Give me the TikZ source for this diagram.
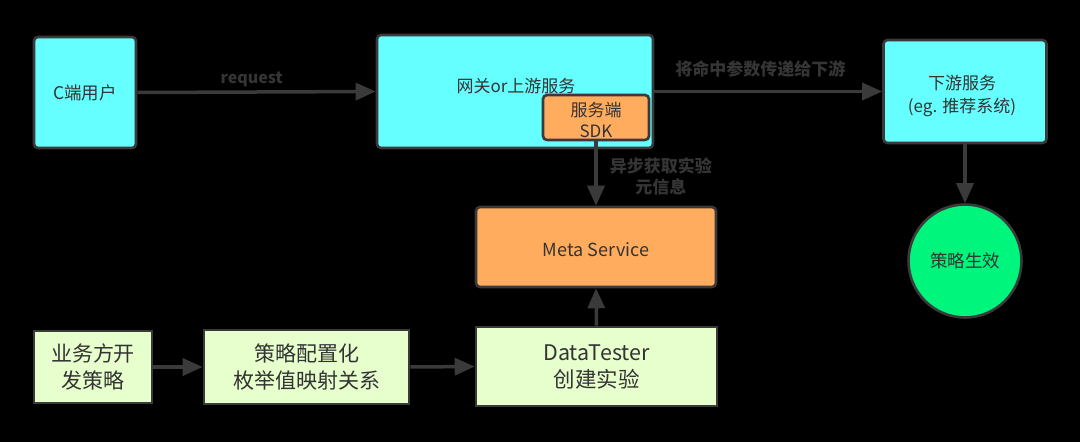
\documentclass[tikz,border=0pt]{standalone}
\usepackage{fontspec}
\setmainfont{Noto Sans CJK SC}
\usetikzlibrary{arrows.meta,positioning}
\definecolor{bordc}{HTML}{3A3A3A}
\definecolor{lblc}{HTML}{353535}
\definecolor{txtc}{HTML}{333333}
\definecolor{cyanf}{HTML}{66FFFF}
\definecolor{orangef}{HTML}{FFAC5E}
\definecolor{greenf}{HTML}{E6FFCC}
\definecolor{circf}{HTML}{00F57C}
\tikzset{
  box/.style={draw=bordc, line width=2.6pt, rectangle, inner sep=0pt, text=txtc, align=center},
  cyanbox/.style={box, fill=cyanf, rounded corners=4pt, font=\fontsize{17}{21}\selectfont},
  orangebox/.style={box, fill=orangef, rounded corners=4pt, font=\fontsize{17}{21}\selectfont},
  greenbox/.style={box, fill=greenf, font=\fontsize{21}{27}\selectfont},
  conn/.style={draw=bordc, line width=3.5pt, -{Triangle[length=20pt,width=17pt]}},
  lbl/.style={text=lblc, inner sep=0pt, align=center, font=\fontsize{17}{21}\selectfont\bfseries},
  txt/.style={text=txtc, inner sep=0pt, align=center, font=\fontsize{17}{21}\selectfont}
}
\begin{document}
\begin{tikzpicture}[x=1pt,y=-1pt]
\fill[black] (0,0) rectangle (1080,442);
\useasboundingbox (0,0) rectangle (1080,442);
% top row
\node[cyanbox, minimum width=102pt, minimum height=111pt, font=\fontsize{17.5}{21}\selectfont] (cu) at (85,92.5) {C端用户};
\node[cyanbox, minimum width=276pt, minimum height=113pt] (gw) at (515,91.5) {};
\node[txt] (gwt) at (516,86) {网关or上游服务};
\node[orangebox, minimum width=106pt, minimum height=45pt] (sdk) at (596,117.5) {};
\node[txt] (sdkt) at (596,120) {服务端\\SDK};
\node[cyanbox, minimum width=163pt, minimum height=103pt] (ds) at (965,91.5) {};
\node[txt, font=\fontsize{17}{23}\selectfont] (dst) at (962,96) {下游服务\\(eg. 推荐系统)};
\node[box, circle, fill=circf, minimum size=113pt, font=\fontsize{17.5}{21}\selectfont] (eff) at (965,261) {策略生效};
% middle
\node[orangebox, minimum width=240pt, minimum height=80pt, font=\fontsize{18}{21}\selectfont] (meta) at (596,247) {};
\node[txt, font=\fontsize{18}{21}\selectfont] (metat) at (596,250) {Meta Service};
% bottom row
\node[greenbox, minimum width=118pt, minimum height=72pt] (biz) at (93,367) {业务方开\\发策略};
\node[greenbox, minimum width=205pt, minimum height=74pt] (cfg) at (306.5,367) {策略配置化\\枚举值映射关系};
\node[greenbox, minimum width=241pt, minimum height=79pt, font=\fontsize{21.5}{27}\selectfont] (dt) at (596.5,366.5) {DataTester\\创建实验};
% connectors
\draw[conn] (cu.east) -- node[lbl, font=\fontsize{16}{18}\selectfont\bfseries, pos=0.48, above=3pt] (lreq) {request} (gw.west);
\draw[conn] (gw.east) -- node[lbl, pos=0.465, above=12pt] (lpass) {将命中参数传递给下游} (ds.west);
\draw[conn] (sdk.south) -- node[lbl, pos=0.55, right=12pt] (lasync) {异步获取实验\\元信息} (meta.north);
\draw[conn] (dt.north) -- (meta.south);
\draw[conn] (ds.south) -- (eff.north);
\draw[conn] (biz.east) -- (cfg.west);
\draw[conn] (cfg.east) -- (dt.west);
\end{tikzpicture}
\end{document}
